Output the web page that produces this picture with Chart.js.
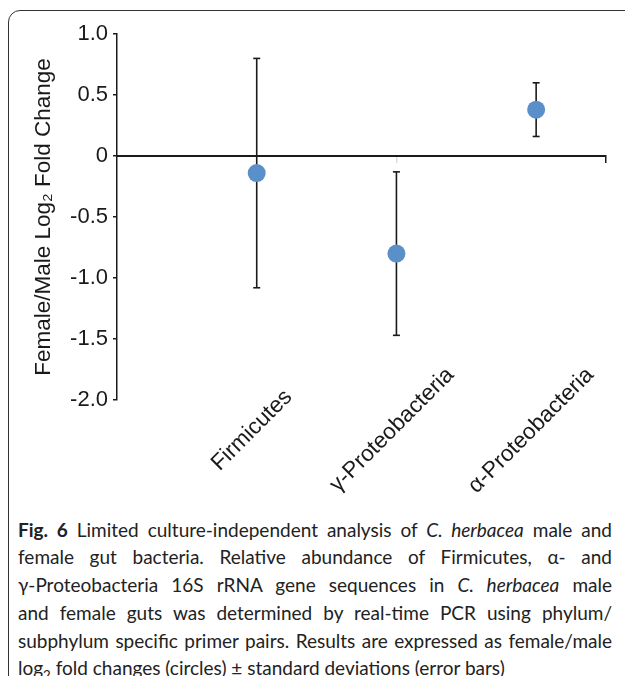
<!DOCTYPE html>
<html><head><meta charset="utf-8">
<script src="https://cdn.jsdelivr.net/npm/chart.js@4"></script>
<style>
html,body{margin:0;padding:0;background:#fff;width:625px;height:676px;overflow:hidden;}
#frame{position:absolute;left:8px;top:10px;width:680px;height:720px;border:1.5px solid #333;border-radius:12px;box-sizing:border-box;}
#wrap{position:absolute;left:0;top:0;width:625px;height:500px;}
#cap{position:absolute;left:18px;top:515.5px;width:594px;font-family:Lato;font-size:19px;color:#222;}
#cap div{height:27.8px;line-height:27.8px;white-space:nowrap;text-align:justify;text-align-last:justify;}
#cap div.last{text-align-last:left;}
</style></head><body>
<div id="frame"></div>
<div id="wrap"><canvas id="c" width="625" height="500"></canvas></div>
<div id="cap">
<div><b>Fig. 6</b> Limited culture-independent analysis of <i>C. herbacea</i> male and</div>
<div>female gut bacteria. Relative abundance of Firmicutes, α- and</div>
<div>γ-Proteobacteria 16S rRNA gene sequences in <i>C. herbacea</i> male</div>
<div>and female guts was determined by real-time PCR using phylum/</div>
<div>subphylum specific primer pairs. Results are expressed as female/male</div>
<div class="last">log<sub style="font-size:0.7em;line-height:0">2</sub> fold changes (circles) ± standard deviations (error bars)</div>
</div>
<script>
const categories = ['Firmicutes', 'γ-Proteobacteria', 'α-Proteobacteria'];
const foldChange = [-0.14, -0.80, 0.38];
const stdDev = [0.94, 0.67, 0.22];
const yTickLabels = ['-2.0', '-1.5', '-1.0', '-0.5', '0', '0.5', '1.0'];
const yTitle = 'Female/Male Log₂ Fold Change';

const FONT = '"Liberation Sans", Arial, sans-serif';
const LBL_SIZE = 22.5;
const INK = '#1a1a1a';

// pad labels with trailing spaces so that rotated labels are centred like the reference
const mctx = document.createElement('canvas').getContext('2d');
mctx.font = LBL_SIZE + 'px ' + FONT;
const widths = categories.map(c => mctx.measureText(c).width);
const maxW = Math.max(...widths);
const spW = mctx.measureText(' ').width;
const padded = categories.map((c, i) => c + ' '.repeat(Math.round((maxW - widths[i]) / 2 / spW)));

const meanData = categories.map((c, i) => ({x: i + 1, y: foldChange[i]}));
const barSets = categories.map((c, i) => ({
  type: 'scatter', showLine: true, order: 2,
  data: [{x: i + 1, y: foldChange[i] - stdDev[i]}, {x: i + 1, y: foldChange[i] + stdDev[i]}],
  borderColor: INK, borderWidth: 1.6, pointRadius: 0
}));
const capData = [];
categories.forEach((c, i) => {
  capData.push({x: i + 1, y: foldChange[i] - stdDev[i]});
  capData.push({x: i + 1, y: foldChange[i] + stdDev[i]});
});

new Chart(document.getElementById('c'), {
  type: 'scatter',
  data: {
    datasets: [
      {data: meanData, pointRadius: 9, pointHoverRadius: 9, backgroundColor: '#5b8fca', borderWidth: 0, order: 0},
      {data: capData, pointStyle: 'line', pointRadius: 3.5, borderColor: INK, borderWidth: 1.6, order: 1},
      ...barSets
    ]
  },
  options: {
    responsive: false, animation: false, devicePixelRatio: 1,
    layout: {padding: {top: 34, right: 19, bottom: 100, left: 0}},
    plugins: {legend: {display: false}, tooltip: {enabled: false}},
    scales: {
      y: {
        type: 'linear', min: -2, max: 1, position: 'left',
        afterFit: s => { s.width = 117; },
        ticks: {stepSize: 0.5, padding: 5, color: INK, font: {family: FONT, size: 22},
          callback: (v, i) => yTickLabels[i]},
        grid: {drawOnChartArea: false, tickLength: 4, color: INK, lineWidth: 1.5},
        border: {display: true, color: INK, width: 1.5},
        title: {display: true, text: yTitle, color: INK, font: {family: FONT, size: 22.5},
          padding: {top: 30, bottom: 0}}
      },
      x: {
        type: 'linear', min: 0, max: 3.5, position: {y: 0},
        afterBuildTicks: s => { s.ticks = [{value: 2}, {value: 3.5}]; },
        ticks: {display: false},
        grid: {drawOnChartArea: false, drawTicks: true, tickLength: 6, lineWidth: 1.5,
          color: ctx => (ctx.tick && ctx.tick.value === 3.5) ? INK : '#dddddd'},
        border: {display: true, color: INK, width: 2}
      },
      xl: {
        type: 'linear', min: 0, max: 3.5, position: {y: -2},
        afterBuildTicks: s => { s.ticks = categories.map((c, i) => ({value: i + 1})); },
        grid: {display: false, drawTicks: false},
        border: {display: false},
        ticks: {autoSkip: false, minRotation: 45, maxRotation: 45, padding: -38, labelOffset: 54,
          color: INK, font: {family: FONT, size: LBL_SIZE},
          callback: v => padded[Math.round(v) - 1]}
      }
    }
  }
});
</script>
</body></html>
